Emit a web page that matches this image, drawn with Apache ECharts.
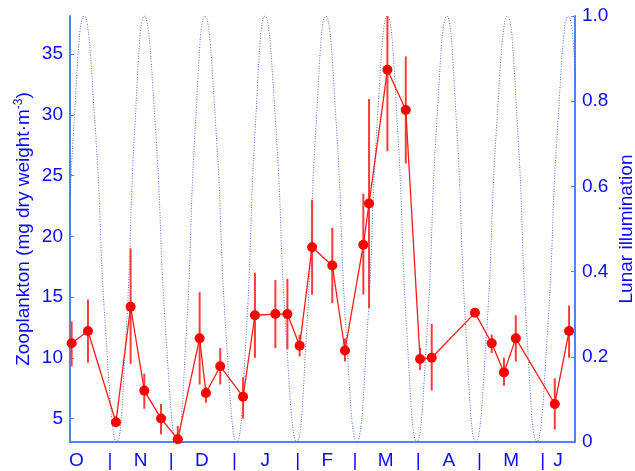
<!DOCTYPE html>
<html>
<head>
<meta charset="utf-8">
<script src="https://cdn.jsdelivr.net/npm/echarts@6/dist/echarts.min.js"></script>
<style>html,body{margin:0;padding:0;background:#fff;}#c{width:635px;height:471px;}</style>
</head>
<body>
<div id="c"></div>
<script>
// x values are days counted from 1 October
const sampleDays = [12.2, 20.2, 33.9, 41.1, 47.8, 56.0, 64.2, 74.9, 78.0, 85.0, 96.2, 102.0, 112.0, 117.9, 123.9, 130.0, 139.9, 146.1, 155.1, 157.9, 166.9, 175.9, 182.9, 188.6, 209.8, 218.0, 224.0, 229.8, 248.9, 255.9];
const zooplankton = [11.2, 12.2, 4.7, 14.2, 7.3, 5.0, 3.3, 11.6, 7.1, 9.3, 6.8, 13.5, 13.6, 13.6, 11.0, 19.1, 17.6, 10.6, 19.3, 22.7, 33.7, 30.4, 9.9, 10.0, 13.7, 11.2, 8.8, 11.6, 6.2, 12.2];
const errLow = [9.3, 9.6, 4.3, 9.5, 5.8, 3.7, 2.5, 7.8, 6.3, 7.8, 5.0, 10.0, 10.8, 10.7, 10.1, 15.2, 14.5, 9.7, 15.2, 14.1, 27.0, 26.0, 9.0, 7.3, 13.4, 10.4, 7.7, 9.7, 4.1, 10.0];
const errHigh = [13.0, 14.8, 5.2, 19.0, 8.7, 6.2, 4.4, 15.4, 7.6, 10.8, 8.4, 17.0, 16.4, 16.5, 11.9, 23.0, 20.7, 11.6, 23.5, 31.3, 40.0, 34.8, 10.8, 12.8, 14.0, 11.9, 10.0, 13.5, 8.3, 14.3];

const lunarDays = [3.6, 8.5, 13.4, 18.3, 23.6, 29.0, 34.3, 38.8, 43.3, 47.8, 53.1, 58.4, 63.7, 68.3, 72.9, 77.5, 82.7, 87.9, 93.1, 97.7, 102.3, 106.9, 112.1, 117.3, 122.5, 127.2, 132.0, 136.7, 141.8, 146.8, 151.9, 156.9, 161.9, 166.9, 171.7, 176.5, 181.3, 186.2, 191.1, 196.0, 200.7, 205.5, 210.2, 215.4, 220.5, 225.7, 230.5, 235.3, 240.1, 245.2, 250.4, 255.5, 260.3, 265.2, 270.0];
const lunarIllum = [0, 0.25, 0.75, 1, 0.75, 0.25, 0, 0.25, 0.75, 1, 0.75, 0.25, 0, 0.25, 0.75, 1, 0.75, 0.25, 0, 0.25, 0.75, 1, 0.75, 0.25, 0, 0.25, 0.75, 1, 0.75, 0.25, 0, 0.25, 0.75, 1, 0.75, 0.25, 0, 0.25, 0.75, 1, 0.75, 0.25, 0, 0.25, 0.75, 1, 0.75, 0.25, 0, 0.25, 0.75, 1, 0.75, 0.25, 0];

const xTickPos = [14.5, 31, 46, 61, 76, 92, 107, 123, 137.5, 151, 166, 182, 197, 212, 227.5, 243, 250.5];
const xTickLabels = ['O', '|', 'N', '|', 'D', '|', 'J', '|', 'F', '|', 'M', '|', 'A', '|', 'M', '|', 'J'];
const leftTicks = [5, 10, 15, 20, 25, 30, 35];

const FONT = 'Liberation Sans, Arial, sans-serif';
const TEXT = '#0a0aff';
const AXIS = '#4d86ee';
const FS = 19;

const chart = echarts.init(document.getElementById('c'), null, {renderer: 'canvas'});
chart.setOption({
  animation: false,
  backgroundColor: '#ffffff',
  grid: {left: 70, right: 60, top: 16, bottom: 29, containLabel: false, outerBoundsMode: 'none'},
  xAxis: {
    type: 'value', min: 11.4, max: 258.8,
    splitLine: {show: false},
    axisLine: {show: true, lineStyle: {color: AXIS, width: 2}},
    axisTick: {show: false},
    axisLabel: {
      customValues: xTickPos,
      color: TEXT, fontSize: FS, fontFamily: FONT, margin: 9,
      formatter: function (v) {
        let best = 0;
        for (let i = 0; i < xTickPos.length; i++) if (Math.abs(xTickPos[i] - v) < Math.abs(xTickPos[best] - v)) best = i;
        return xTickLabels[best];
      }
    }
  },
  yAxis: [{
    type: 'value', min: 3.07, max: 38.13, position: 'left',
    name: '{n|Zooplankton (mg dry weight·m}{s|-3}{n|)}',
    nameLocation: 'middle', nameGap: 35, nameRotate: 90, nameMoveOverlap: false,
    nameTextStyle: {
      color: TEXT, fontFamily: FONT, fontSize: FS,
      rich: {
        n: {color: TEXT, fontFamily: FONT, fontSize: FS, lineHeight: 22},
        s: {color: TEXT, fontFamily: FONT, fontSize: 12, verticalAlign: 'top', lineHeight: 22, padding: [0, 0, 9, 0]}
      }
    },
    splitLine: {show: false},
    axisLine: {show: true, lineStyle: {color: AXIS, width: 2}},
    axisTick: {show: true, inside: true, length: 4, customValues: leftTicks, lineStyle: {color: AXIS}},
    axisLabel: {customValues: leftTicks, color: TEXT, fontSize: FS, fontFamily: FONT, margin: 7}
  }, {
    type: 'value', min: 0, max: 1, interval: 0.2, position: 'right',
    name: 'Lunar illumination',
    nameLocation: 'middle', nameGap: 42, nameRotate: 90, nameMoveOverlap: false,
    nameTextStyle: {color: TEXT, fontFamily: FONT, fontSize: FS},
    splitLine: {show: false},
    axisLine: {show: true, lineStyle: {color: AXIS, width: 2}},
    axisTick: {show: true, inside: true, length: 4, lineStyle: {color: AXIS}},
    axisLabel: {color: TEXT, fontSize: FS, fontFamily: FONT, margin: 7,
      formatter: function (v) { return v === 0 ? '0' : v.toFixed(1); }}
  }],
  series: [{
    type: 'line', yAxisIndex: 1, z: 1,
    data: lunarDays.map((d, i) => [d, lunarIllum[i]]),
    smooth: true, showSymbol: false, symbol: 'none', clip: true,
    lineStyle: {color: '#3556d8', width: 1, type: [1, 1.6], opacity: 0.85}
  }, {
    type: 'custom', yAxisIndex: 0, z: 2, clip: true,
    data: sampleDays.map((d, i) => [d, errLow[i], errHigh[i]]),
    encode: {x: 0, y: [1, 2]},
    renderItem: function (params, api) {
      const x = api.value(0);
      const p1 = api.coord([x, api.value(1)]);
      const p2 = api.coord([x, api.value(2)]);
      const cs = params.coordSys;
      const top = cs.y, bot = cs.y + cs.height;
      const y1 = Math.min(Math.max(p1[1], top), bot);
      const y2 = Math.min(Math.max(p2[1], top), bot);
      return {type: 'line', shape: {x1: p1[0], y1: y1, x2: p2[0], y2: y2},
        style: {stroke: '#ff3a3a', lineWidth: 2}};
    }
  }, {
    type: 'line', yAxisIndex: 0, z: 3, clip: false,
    data: sampleDays.map((d, i) => [d, zooplankton[i]]),
    symbol: 'circle', symbolSize: 10, showSymbol: true,
    itemStyle: {color: '#ff0000'},
    lineStyle: {color: '#ff1a1a', width: 1.3}
  }]
});
</script>
</body>
</html>
